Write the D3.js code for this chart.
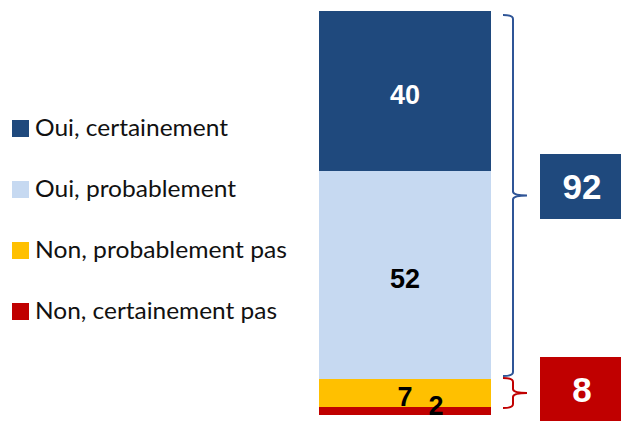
<!DOCTYPE html>
<html>
<head>
<meta charset="utf-8">
<script src="https://cdn.jsdelivr.net/npm/d3@7"></script>
<style>
  html, body { margin: 0; padding: 0; background: #fff; }
  svg { display: block; }
</style>
</head>
<body>
<div id="chart"></div>
<script>
// Survey answers, stacked from the bottom of the bar upwards
const categories = ["Oui, certainement", "Oui, probablement", "Non, probablement pas", "Non, certainement pas"];
const values = [40, 52, 7, 2];
const colors = ["#1F497D", "#C6D9F1", "#FFC000", "#C00000"];
const labelColors = ["#fff", "#000", "#000", "#000"];

// Grouped totals shown in the side boxes
const groupLabels = ["92", "8"];
const groupMembers = [[0, 1], [2, 3]];
const groupColors = ["#1F497D", "#C00000"];

const W = 621, H = 421;
const svg = d3.select("#chart").append("svg").attr("width", W).attr("height", H);

const total = d3.sum(values);
const y = d3.scaleLinear().domain([0, total]).range([415, 11]);
const x = d3.scaleBand().domain(["bar"]).range([319, 491]).padding(0);

// stack order: last category at the bottom
const order = [3, 2, 1, 0];
let acc = 0;
const segs = {};
order.forEach(i => { segs[i] = { y0: acc, y1: acc + values[i] }; acc += values[i]; });

const bars = svg.append("g");
categories.forEach((c, i) => {
  bars.append("rect")
    .attr("x", x("bar"))
    .attr("width", x.bandwidth())
    .attr("y", y(segs[i].y1))
    .attr("height", y(segs[i].y0) - y(segs[i].y1))
    .attr("fill", colors[i]);
});

// value labels
const cx = x("bar") + x.bandwidth() / 2;
const lab = svg.append("g")
  .attr("font-family", "'Liberation Sans', Arial, sans-serif")
  .attr("font-weight", "bold")
  .attr("font-size", 27)
  .attr("text-anchor", "middle");
categories.forEach((c, i) => {
  const mid = (y(segs[i].y0) + y(segs[i].y1)) / 2;
  let tx = cx, ty = mid + 12.5;
  if (i === 2) { ty = y(segs[i].y0) - 1; }
  if (i === 3) { tx = cx + 31; ty = H - 6; }
  lab.append("text").attr("x", tx).attr("y", ty).attr("fill", labelColors[i]).text(values[i]);
});

// braces grouping the segments
function brace(top, bottom, color) {
  const xl = 503, xv = 513, xt = 527;
  const mid = (top + bottom) / 2;
  const p = d3.path();
  p.moveTo(xl, top);
  p.quadraticCurveTo(xv, top, xv, top + 4);
  p.lineTo(xv, mid - 4);
  p.quadraticCurveTo(xv, mid, xt, mid);
  p.quadraticCurveTo(xv, mid, xv, mid + 4);
  p.lineTo(xv, bottom - 4);
  p.quadraticCurveTo(xv, bottom, xl, bottom);
  svg.append("path").attr("d", p.toString())
    .attr("fill", "none").attr("stroke", color).attr("stroke-width", 2);
}
const gTop0 = y(segs[0].y1) + 4, gBot0 = y(segs[1].y0) - 3;
const gTop1 = y(segs[2].y1) - 1, gBot1 = y(segs[3].y0) - 7;
brace(gTop0, gBot0, "#2F5597");
brace(gTop1, gBot1, "#C00000");

// total boxes
const boxes = [
  { y: 154, h: 65 },
  { y: 357, h: 64 }
];
groupLabels.forEach((g, k) => {
  svg.append("rect").attr("x", 540).attr("y", boxes[k].y).attr("width", 81).attr("height", boxes[k].h)
    .attr("fill", groupColors[k]);
  svg.append("text")
    .attr("x", 582).attr("y", boxes[k].y + boxes[k].h / 2 + 12.5)
    .attr("text-anchor", "middle")
    .attr("font-family", "'Liberation Sans', Arial, sans-serif")
    .attr("font-weight", "bold").attr("font-size", 35)
    .attr("fill", "#fff").text(g);
});

// legend
const legend = svg.append("g");
const targetW = [193, 201, 252, 242];
categories.forEach((c, i) => {
  const ly = 120 + i * 61;
  legend.append("rect").attr("x", 12).attr("y", ly).attr("width", 17).attr("height", 17).attr("fill", colors[i]);
  legend.append("text").attr("x", 35).attr("y", ly + 16)
    .attr("font-family", "Lato, 'Noto Sans', sans-serif")
    .attr("font-size", 23)
    .attr("fill", "#111")
    .attr("textLength", targetW[i])
    .attr("lengthAdjust", "spacingAndGlyphs")
    .text(c);
});
</script>
</body>
</html>
